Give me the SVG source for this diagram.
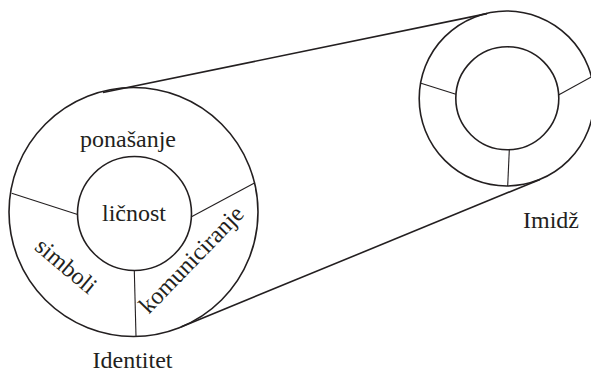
<svg xmlns="http://www.w3.org/2000/svg" width="591" height="372" viewBox="0 0 591 372">
<style>
.c{fill:none;stroke:#231f20;stroke-width:1.6}
.d{fill:none;stroke:#231f20;stroke-width:1.1}
text{font-family:'Liberation Serif',Tinos,'Times New Roman','DejaVu Serif',serif;font-size:24px;fill:#231f20}
.m{text-anchor:middle}
</style>
<rect width="591" height="372" fill="#fff"/>
<g id="connectors">
<line class="c" x1="103" y1="92.5" x2="487" y2="13.6"/>
<line class="c" x1="181" y1="327" x2="540" y2="179.4"/>
</g>
<g id="identitet">
<circle class="c" cx="133.5" cy="212" r="124.5"/>
<circle class="c" cx="134.5" cy="213.5" r="57"/>
<line class="d" x1="11.7" y1="193.3" x2="77.6" y2="214.5"/>
<line class="d" x1="191.5" y1="216.7" x2="254" y2="183.3"/>
<line class="d" x1="134.3" y1="270.5" x2="136" y2="336"/>
<text class="m" x="128" y="147">ponašanje</text>
<text class="m" x="134" y="221">ličnost</text>
<text class="m" transform="translate(61 272) rotate(40)">simboli</text>
<text class="m" transform="translate(197 265) rotate(-46)">komuniciranje</text>
<text class="m" x="132.5" y="368">Identitet</text>
</g>
<g id="imidz">
<circle class="c" cx="506.7" cy="98.5" r="87.5"/>
<circle class="c" cx="507.3" cy="98.3" r="51.5"/>
<line class="d" x1="421" y1="83.3" x2="455.9" y2="94.3"/>
<line class="d" x1="558.5" y1="95" x2="593" y2="76"/>
<line class="d" x1="509.3" y1="149.8" x2="507.7" y2="186"/>
<text x="523" y="228">Imidž</text>
</g>
</svg>
